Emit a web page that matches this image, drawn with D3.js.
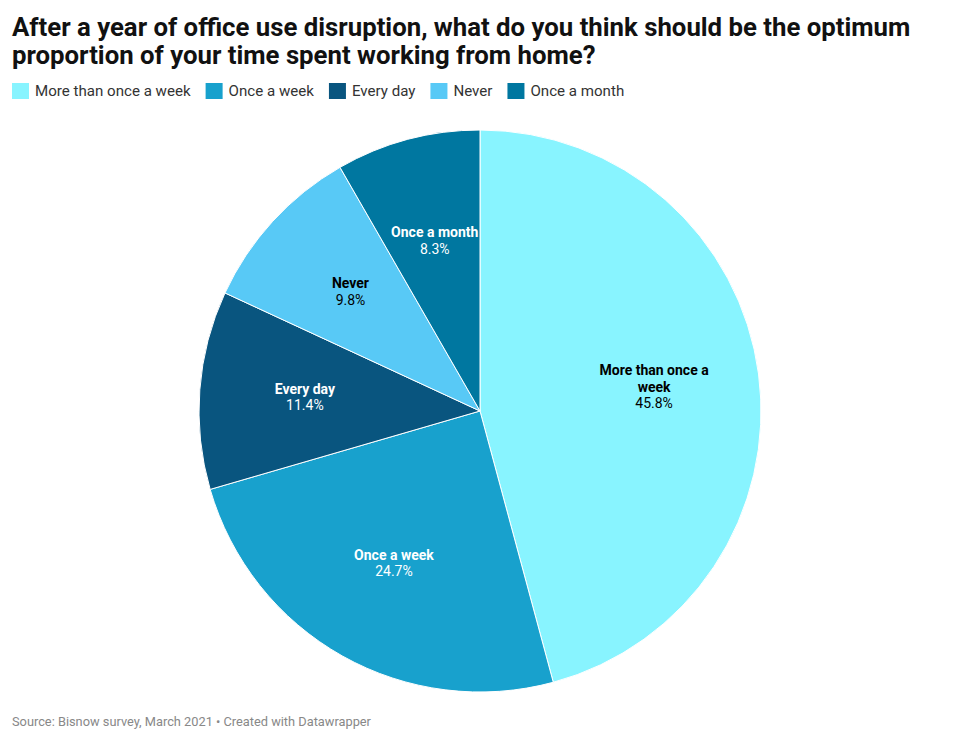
<!DOCTYPE html>
<html>
<head>
<meta charset="utf-8">
<script src="https://cdn.jsdelivr.net/npm/d3@7"></script>
<style>
  body { margin: 0; background: #fff; font-family: Roboto, sans-serif; }
  svg text { font-family: Roboto, sans-serif; }
</style>
</head>
<body>
<svg id="chart" width="960" height="743"></svg>
<script>
var categories = ["More than once a week", "Once a week", "Every day", "Never", "Once a month"];
var values = [45.8, 24.7, 11.4, 9.8, 8.3];
var colors = ["#88f4ff", "#18a1cd", "#09557f", "#58c9f6", "#0077a0"];
var labelColors = ["#000", "#fff", "#fff", "#000", "#fff"];

var svg = d3.select("#chart");

// title, two lines
var title = svg.append("g")
    .attr("font-size", 25.75)
    .attr("font-weight", 700)
    .attr("fill", "#111");
title.append("text").attr("x", 12).attr("y", 36)
    .text("After a year of office use disruption, what do you think should be the optimum");
title.append("text").attr("x", 12).attr("y", 64)
    .text("proportion of your time spent working from home?");

// legend
var legend = svg.append("g").attr("transform", "translate(12,83)");
var lx = 0;
categories.forEach(function(c, i) {
    var item = legend.append("g").attr("transform", "translate(" + lx + ",0)");
    item.append("rect").attr("width", 17).attr("height", 16).attr("fill", colors[i]);
    var t = item.append("text").attr("x", 23).attr("y", 13)
        .attr("font-size", 15.1).attr("fill", "#333").text(c);
    lx += 23 + t.node().getComputedTextLength() + 15;
});

// pie
var cx = 480, cy = 411, radius = 281;
var data = categories.map(function(c, i) { return {name: c, value: values[i], color: colors[i], text: labelColors[i]}; });

var pie = d3.pie().sort(null).value(function(d) { return d.value; });
var arc = d3.arc().innerRadius(0).outerRadius(radius);
var labelArc = d3.arc().innerRadius(radius * 0.625).outerRadius(radius * 0.625);

var g = svg.append("g").attr("transform", "translate(" + cx + "," + cy + ")");

g.selectAll("path")
  .data(pie(data))
  .enter().append("path")
    .attr("d", arc)
    .attr("fill", function(d) { return d.data.color; })
    .attr("stroke", "#fff")
    .attr("stroke-width", 1);

var labels = g.selectAll(".label")
  .data(pie(data))
  .enter().append("text")
    .attr("class", "label")
    .attr("text-anchor", "middle")
    .attr("font-size", 14)
    .attr("fill", function(d) { return d.data.text; })
    .attr("transform", function(d) { return "translate(" + labelArc.centroid(d) + ")"; });

labels.each(function(d) {
    var el = d3.select(this);
    var lines = d.data.name === "More than once a week" ? ["More than once a", "week"] : [d.data.name];
    var lh = 16.5;
    var start = -(lines.length) * lh / 2 + 4;
    lines.forEach(function(l, k) {
        el.append("tspan").attr("x", 0).attr("y", start + k * lh)
          .attr("font-weight", 700).text(l);
    });
    el.append("tspan").attr("x", 0).attr("y", start + lines.length * lh)
      .text(d.data.value.toFixed(1) + "%");
});

// footer
svg.append("text")
    .attr("x", 12)
    .attr("y", 726)
    .attr("font-size", 12.8)
    .attr("fill", "#888")
    .text("Source: Bisnow survey, March 2021 \u2022 Created with Datawrapper");
</script>
</body>
</html>
